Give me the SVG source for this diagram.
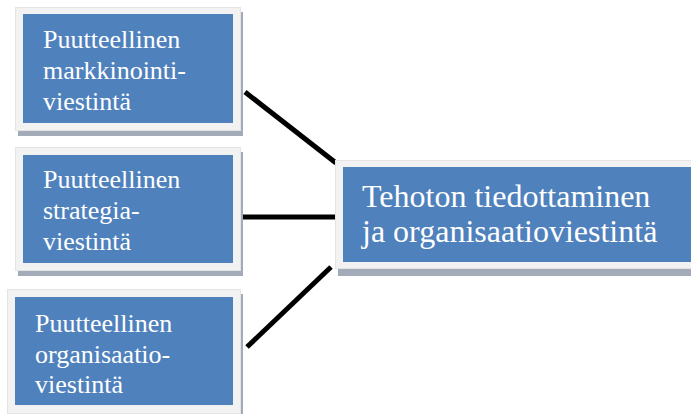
<svg xmlns="http://www.w3.org/2000/svg" width="691" height="414" viewBox="0 0 691 414">
  <style>
    .shadow { fill: #A3ABB8; }
    .frame { fill: #F2F2F2; stroke: #E4E4E4; stroke-width: 1; }
    .box { fill: #4F81BD; }
    .label { font-family: "Liberation Serif", "Times New Roman", serif; fill: #FFFFFF; }
    .small { font-size: 26px; }
    .big { font-size: 32px; }
    .link { stroke: #000000; stroke-width: 5; stroke-linecap: butt; fill: none; }
  </style>
  <rect width="691" height="414" fill="#FFFFFF"/>

  <g id="connectors">
    <line class="link" x1="245" y1="92" x2="336" y2="163"/>
    <line class="link" x1="242" y1="217" x2="335" y2="217"/>
    <line class="link" x1="247" y1="347" x2="331" y2="267"/>
  </g>

  <g id="node-markkinointi">
    <rect class="shadow" x="18" y="12" width="225" height="124"/>
    <rect class="frame" x="15.5" y="7.5" width="225" height="123"/>
    <rect class="box" x="23" y="14" width="210" height="109"/>
    <text class="label small" x="43" y="48">Puutteellinen</text>
    <text class="label small" x="43" y="79">markkinointi-</text>
    <text class="label small" x="43" y="110">viestintä</text>
  </g>

  <g id="node-strategia">
    <rect class="shadow" x="18" y="152" width="225" height="124"/>
    <rect class="frame" x="15.5" y="147.5" width="225" height="123"/>
    <rect class="box" x="23" y="155" width="210" height="108"/>
    <text class="label small" x="43" y="188">Puutteellinen</text>
    <text class="label small" x="43" y="219">strategia-</text>
    <text class="label small" x="43" y="250">viestintä</text>
  </g>

  <g id="node-organisaatio">
    <rect class="shadow" x="10" y="294" width="233" height="125"/>
    <rect class="frame" x="7.5" y="289.5" width="233" height="124"/>
    <rect class="box" x="15" y="297" width="218" height="108"/>
    <text class="label small" x="35" y="332">Puutteellinen</text>
    <text class="label small" x="35" y="363">organisaatio-</text>
    <text class="label small" x="35" y="393">viestintä</text>
  </g>

  <g id="node-tehoton">
    <rect class="shadow" x="338" y="165" width="360" height="111"/>
    <rect class="frame" x="335.5" y="160.5" width="360" height="108"/>
    <rect class="box" x="343" y="167" width="360" height="95"/>
    <text class="label big" x="362" y="207">Tehoton tiedottaminen</text>
    <text class="label big" x="362" y="242">ja organisaatioviestintä</text>
  </g>
</svg>
